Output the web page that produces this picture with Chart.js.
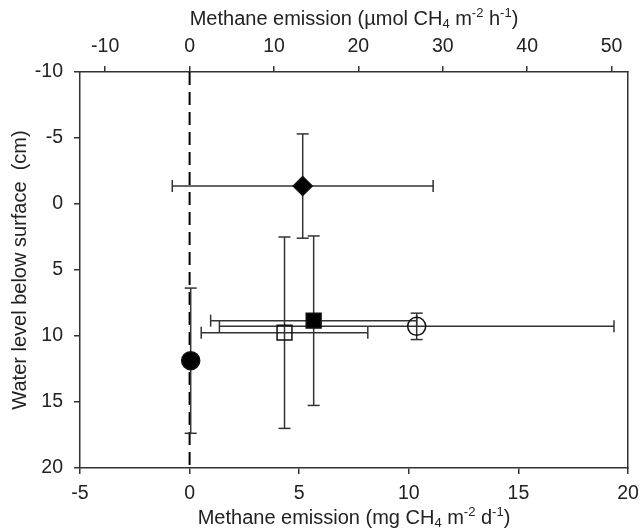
<!DOCTYPE html>
<html lang="en">
<head>
<meta charset="UTF-8">
<title>Methane emission and water level</title>
<script src="https://cdn.jsdelivr.net/npm/chart.js"></script>
<style>
    body {
        margin: 0;
        background: #fff;
    }

    .wrap {
        position: relative;
        width: 641px;
        height: 529px;
    }
</style>
</head>
<body>
<div class="wrap"><canvas id="ch4Chart"></canvas></div>

<script>
    // mean methane emission (mg CH4 m-2 d-1) and water level (cm below surface) per site, with ± errors
    const sites = ['site A', 'site B', 'site C', 'site D', 'site E'];
    const emission = [5.16, 5.66, 4.33, 10.36, 0.05];
    const emissionErr = [5.95, 4.70, 3.80, 9.00, 0];
    const waterLevel = [-1.36, 8.84, 9.75, 9.27, 11.87];
    const waterLevelErr = [3.95, 6.42, 7.25, 1.00, 5.50];

    const mgTicks = [-5, 0, 5, 10, 15, 20];
    const umolTicks = [-10, 0, 10, 20, 30, 40, 50];
    const depthTicks = [-10, -5, 0, 5, 10, 15, 20];

    // 1 mg CH4 m-2 d-1 = 1000 / 16.04 / 24 umol CH4 m-2 h-1
    const MG_TO_UMOL = 1000 / 16.04 / 24;

    const markerStyle = ['rectRot', 'rect', 'rect', 'circle', 'circle'];
    const markerFill = ['#000', '#000', 'rgba(0,0,0,0)', 'rgba(0,0,0,0)', '#000'];
    const markerRadius = [9.5, 10.5, 10.5, 9, 9];

    const FONT = '"Liberation Sans", Arial, sans-serif';
    const INK = '#222';
    const LINE = '#333';

    // one two-point line per error bar, caps drawn as rotated 'line' points
    function errorBar(data, capRotation) {
        return {
            data: data,
            showLine: true,
            borderColor: LINE,
            borderWidth: 1.5,
            pointStyle: 'line',
            pointRotation: capRotation,
            pointRadius: 6,
            pointBorderColor: LINE,
            pointBorderWidth: 1.5,
            order: 2
        };
    }

    const datasets = [];
    sites.forEach(function (name, i) {
        if (emissionErr[i] > 0) {
            datasets.push(errorBar([
                { x: emission[i] - emissionErr[i], y: waterLevel[i] },
                { x: emission[i] + emissionErr[i], y: waterLevel[i] }
            ], 90));
        }
        if (waterLevelErr[i] > 0) {
            datasets.push(errorBar([
                { x: emission[i], y: waterLevel[i] - waterLevelErr[i] },
                { x: emission[i], y: waterLevel[i] + waterLevelErr[i] }
            ], 0));
        }
    });

    // zero-emission reference line
    datasets.push({
        data: [{ x: 0, y: depthTicks[0] }, { x: 0, y: depthTicks[depthTicks.length - 1] }],
        showLine: true,
        borderColor: '#000',
        borderWidth: 2,
        borderDash: [13, 7],
        pointRadius: 0,
        order: 3
    });

    datasets.push({
        label: 'sites',
        data: emission.map(function (x, i) { return { x: x, y: waterLevel[i] }; }),
        pointStyle: markerStyle,
        pointRadius: markerRadius,
        backgroundColor: markerFill,
        borderColor: '#111',
        borderWidth: 1.5,
        order: 0
    });

    // axis titles with sub- and superscripts
    function richText(ctx, parts, cx, cy) {
        const big = 20, small = 13;
        let total = 0;
        parts.forEach(function (p) {
            ctx.font = (p[1] ? small : big) + 'px ' + FONT;
            total += ctx.measureText(p[0]).width;
        });
        let x = cx - total / 2;
        ctx.textAlign = 'left';
        ctx.textBaseline = 'middle';
        parts.forEach(function (p) {
            ctx.font = (p[1] ? small : big) + 'px ' + FONT;
            const dy = p[1] === 'sub' ? 5 : p[1] === 'sup' ? -6 : 0;
            ctx.fillText(p[0], x, cy + dy);
            x += ctx.measureText(p[0]).width;
        });
    }

    const axisTitles = {
        id: 'axisTitles',
        afterDraw: function (chart) {
            const ctx = chart.ctx;
            const a = chart.chartArea;
            const cx = (a.left + a.right) / 2;
            ctx.save();
            ctx.fillStyle = INK;
            richText(ctx, [['Methane emission (mg CH'], ['4', 'sub'], [' m'], ['-2', 'sup'], [' d'], ['-1', 'sup'], [')']], cx, a.bottom + 50);
            richText(ctx, [['Methane emission (\u00b5mol CH'], ['4', 'sub'], [' m'], ['-2', 'sup'], [' h'], ['-1', 'sup'], [')']], cx, a.top - 53);
            ctx.translate(20, (a.top + a.bottom) / 2);
            ctx.rotate(-Math.PI / 2);
            richText(ctx, [['Water level below surface  (cm)']], 0, 0);
            ctx.restore();
        }
    };

    // fixed axis bands so the plot area sits at 80..628 x 72..468
    function fixHeight(h) {
        return function (s) { s.height = h; s.paddingLeft = 0; s.paddingRight = 0; };
    }
    function fixWidth(w) {
        return function (s) { s.width = w; s.paddingTop = 0; s.paddingBottom = 0; };
    }

    const tickFont = { family: FONT, size: 19.5 };
    const gridOpts = { drawOnChartArea: false, drawTicks: true, tickLength: 6, color: LINE, lineWidth: 1.5 };
    const borderOpts = { display: true, color: LINE, width: 1.5 };

    new Chart(document.getElementById('ch4Chart'), {
        type: 'scatter',
        data: { datasets: datasets },
        plugins: [axisTitles],
        options: {
            responsive: true,
            maintainAspectRatio: false,
            animation: false,
            events: [],
            layout: { padding: 0 },
            plugins: {
                legend: { display: false },
                tooltip: { enabled: false }
            },
            scales: {
                x: {
                    type: 'linear',
                    position: 'bottom',
                    min: mgTicks[0],
                    max: mgTicks[mgTicks.length - 1],
                    afterBuildTicks: function (s) { s.ticks = mgTicks.map(function (v) { return { value: v }; }); },
                    afterFit: fixHeight(61),
                    ticks: { font: tickFont, color: INK, padding: 8, maxRotation: 0 },
                    grid: gridOpts,
                    border: borderOpts
                },
                x2: {
                    type: 'linear',
                    position: 'top',
                    min: mgTicks[0] * MG_TO_UMOL,
                    max: mgTicks[mgTicks.length - 1] * MG_TO_UMOL,
                    afterBuildTicks: function (s) { s.ticks = umolTicks.map(function (v) { return { value: v }; }); },
                    afterFit: fixHeight(72),
                    ticks: { font: tickFont, color: INK, padding: 8, maxRotation: 0 },
                    grid: gridOpts,
                    border: borderOpts
                },
                y: {
                    type: 'linear',
                    position: 'left',
                    reverse: true,
                    min: depthTicks[0],
                    max: depthTicks[depthTicks.length - 1],
                    afterBuildTicks: function (s) { s.ticks = depthTicks.map(function (v) { return { value: v }; }); },
                    afterFit: fixWidth(80),
                    ticks: { font: tickFont, color: INK, padding: 11 },
                    grid: gridOpts,
                    border: borderOpts
                },
                y2: {
                    type: 'linear',
                    position: 'right',
                    min: depthTicks[0],
                    max: depthTicks[depthTicks.length - 1],
                    afterFit: fixWidth(13),
                    ticks: { display: false },
                    grid: { display: false },
                    border: borderOpts
                }
            }
        }
    });
</script>
</body>
</html>
